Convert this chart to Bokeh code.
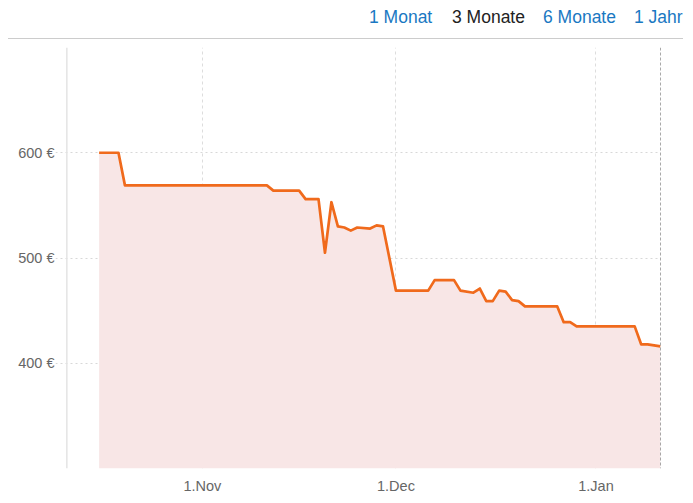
import pandas as pd
from bokeh.plotting import figure
from bokeh.layouts import column
from bokeh.models import Range1d, FixedTicker, Span, Div
from bokeh.embed import file_html
from bokeh.resources import INLINE

# ---- data ----
dates = ["2017-10-16", "2017-10-19", "2017-10-20", "2017-11-11", "2017-11-12",
         "2017-11-16", "2017-11-17", "2017-11-19", "2017-11-20", "2017-11-21",
         "2017-11-22", "2017-11-23", "2017-11-24", "2017-11-25", "2017-11-27",
         "2017-11-28", "2017-11-29", "2017-12-01", "2017-12-06", "2017-12-07",
         "2017-12-10", "2017-12-11", "2017-12-13", "2017-12-14", "2017-12-15",
         "2017-12-16", "2017-12-17", "2017-12-18", "2017-12-19", "2017-12-20",
         "2017-12-21", "2017-12-26", "2017-12-27", "2017-12-28", "2017-12-29",
         "2018-01-07", "2018-01-08", "2018-01-09", "2018-01-11"]
prices = [600, 600, 569, 569, 564, 564, 556, 556, 505, 553,
          530, 529, 526, 529, 528, 531, 530, 469, 469, 479,
          479, 469, 467, 471, 459, 459, 469, 468, 460, 459,
          454, 454, 439, 439, 435, 435, 418, 418, 416]

x_tick_dates = ["2017-11-01", "2017-12-01", "2018-01-01"]
x_tick_labels = ["1.Nov", "1.Dec", "1.Jan"]
y_ticks = [300, 400, 500, 600, 700]
y_tick_labels = ["", "400 €", "500 €", "600 €", ""]
buttons = ["1 Monat", "3 Monate", "6 Monate", "1 Jahr"]
button_active = [False, True, False, False]

y_min, y_max = 300, 700
axis_start = "2017-10-11"

FONT = "Liberation Sans"

x = pd.to_datetime(dates)
DAY = 86400000.0
def ms(d):
    return pd.Timestamp(d).value / 1e6

x_start = ms("2017-11-01") - 22.76 * DAY
x_end = ms(dates[-1])

# ---- header with range buttons ----
btn_left = [369, 452, 543, 634]
spans = "".join(
    f'<span style="position:absolute;left:{bx}px;top:8.5px;line-height:17.5px;'
    f'white-space:nowrap;color:{"#222222" if a else "#1a78c2"}">{t}</span>'
    for t, a, bx in zip(buttons, button_active, btn_left))
header_html = (
    f'<div style="position:relative;width:693px;height:47px;'
    f'font-family:\'{FONT}\',Arial,sans-serif;font-size:17.5px;">'
    f'{spans}'
    f'<div style="position:absolute;left:8px;top:38px;width:675px;height:0;'
    f'border-top:1px solid #cccccc"></div></div>')
header = Div(text=header_html, width=693, height=47, margin=0)

# ---- chart ----
p = figure(frame_width=605, frame_height=421, output_backend="svg",
           toolbar_location=None, x_axis_type="datetime",
           x_range=Range1d(x_start, x_end), y_range=Range1d(y_min, y_max),
           min_border_left=55, min_border_right=33, min_border_top=0,
           min_border_bottom=34, margin=0)
p.outline_line_color = None
p.background_fill_color = "white"

p.varea(x=x, y1=y_min, y2=prices, fill_color="#f8e6e6", fill_alpha=1.0)
p.line(x=x, y=prices, line_color="#f06a1c", line_width=2.7, line_join="round")

tick_ms = [ms(d) for d in x_tick_dates]
p.xaxis.ticker = FixedTicker(ticks=tick_ms)
p.xaxis.major_label_overrides = {t: l for t, l in zip(tick_ms, x_tick_labels)}
p.yaxis.ticker = FixedTicker(ticks=y_ticks)
p.yaxis.major_label_overrides = {t: l for t, l in zip(y_ticks, y_tick_labels)}
for ax in (p.xaxis[0], p.yaxis[0]):
    ax.axis_line_color = None
    ax.major_tick_line_color = None
    ax.minor_tick_line_color = None
    ax.major_tick_out = 0
    ax.major_tick_in = 0
    ax.minor_tick_out = 0
    ax.major_label_text_font = FONT
    ax.major_label_text_font_size = "14.5px"
    ax.major_label_text_color = "#666666"
p.yaxis.major_label_standoff = 1
p.xaxis.major_label_standoff = 9

p.xgrid.grid_line_color = "#dddddd"
p.xgrid.grid_line_dash = "3 3"
p.ygrid.grid_line_color = "#d8d8d8"
p.ygrid.grid_line_dash = "2 3"

p.add_layout(Span(location=ms(axis_start), dimension="height",
                  line_color="#e4e4e4", line_width=1.5))
p.add_layout(Span(location=ms(dates[-1]), dimension="height",
                  line_color="#555555", line_width=1, line_dash="3 2"))

layout = column(header, p, spacing=0)
open("out.html", "w").write(file_html(layout, INLINE))
